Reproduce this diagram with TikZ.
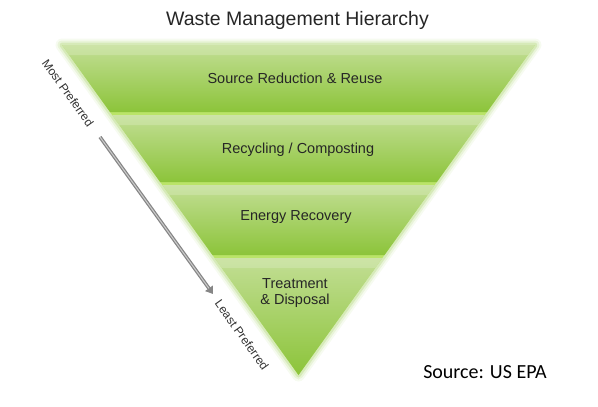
\documentclass[tikz,border=0pt]{standalone}
\usepackage{fontspec}
\setmainfont{Liberation Sans}
\newfontfamily\srcfont{Carlito}
\usetikzlibrary{arrows.meta}

\definecolor{bandtop}{RGB}{194,222,148}
\definecolor{bandmid}{RGB}{164,206,94}
\definecolor{bandbot}{RGB}{140,196,58}
\definecolor{bandgap}{RGB}{186,228,104}
\definecolor{glowgreen}{RGB}{170,212,110}

\tikzset{
  bandlabel/.style = {font=\fontsize{14.5}{16.5}\selectfont, text=black!85, align=center, inner sep=1pt},
  sidelabel/.style = {font=\fontsize{12}{14}\selectfont, text=black!80, rotate=-54.5, inner sep=1pt},
  prefarrow/.style = {draw=gray!95, line width=3.5pt, -{Triangle[length=7pt,width=9pt]}},
}

\begin{document}
\begin{tikzpicture}[x=1pt,y=-1pt]
  \useasboundingbox (0,0) rectangle (598,407);

  % Outline of the pyramid
  \coordinate (tl) at (62,45);
  \coordinate (tr) at (535,45);
  \coordinate (apex) at (298.5,375);

  % Glow and gap colour
  \foreach \w/\o in {13/0.10, 9/0.18, 5/0.30}{
    \draw[glowgreen, line width=\w pt, opacity=\o, line join=round] (tl) -- (tr) -- (apex) -- cycle;
  }
  \fill[bandgap] (tl) -- (tr) -- (apex) -- cycle;

  % Bands
  \foreach \ya/\yb in {45/112, 115/182, 185/255, 258/375}{
    \pgfmathsetmacro{\wa}{0.7167*(375-\ya)}
    \pgfmathsetmacro{\wb}{0.7167*(375-\yb)}
    \shade[top color=bandtop, middle color=bandmid, bottom color=bandbot]
      (298.5-\wa,\ya) -- (298.5+\wa,\ya) -- (298.5+\wb,\yb) -- (298.5-\wb,\yb) -- cycle;
    \fill[white, opacity=0.18]
      (298.5-\wa,\ya) -- (298.5+\wa,\ya) -- (298.5+\wa-7,\ya+10) -- (298.5-\wa+7,\ya+10) -- cycle;
  }

  % Texts
  \node[font=\fontsize{19.5}{22}\selectfont, text=black!85] (title) at (297.5,20) {Waste Management Hierarchy};
  \node[bandlabel] (reduce) at (295,78) {Source Reduction \& Reuse};
  \node[bandlabel] (recycle) at (298,150) {Recycling / Composting};
  \node[bandlabel] (energy) at (296,217) {Energy Recovery};
  \node[bandlabel] (disposal) at (295,293) {Treatment\\\& Disposal};

  \node[sidelabel] (most) at (68,93) {Most Preferred};
  \node[sidelabel] (least) at (242,335) {Least Preferred};

  % Preference arrow
  \coordinate (arrowtop) at (100,137);
  \coordinate (arrowend) at (213,294);
  \draw[prefarrow] (arrowtop) -- (arrowend);
  \draw[gray!40, line width=1pt, shorten >=7pt] (arrowtop) -- (arrowend);

  \node[font=\srcfont\fontsize{20}{22}\selectfont] (source) at (485,372) {Source: US EPA};
\end{tikzpicture}
\end{document}
